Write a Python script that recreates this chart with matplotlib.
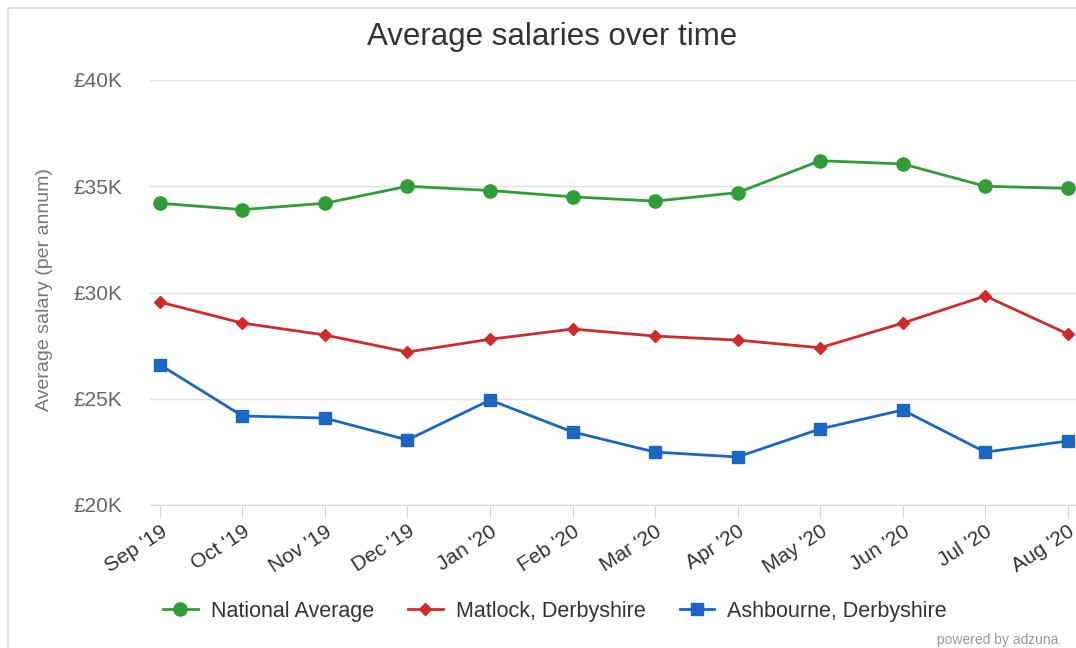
import numpy as np
import matplotlib.pyplot as plt
from matplotlib.patches import Rectangle

plt.rcParams['font.family'] = ['Liberation Sans', 'DejaVu Sans']

# months and salary values (GBP)
months = ["Sep '19", "Oct '19", "Nov '19", "Dec '19", "Jan '20", "Feb '20",
          "Mar '20", "Apr '20", "May '20", "Jun '20", "Jul '20", "Aug '20"]
national = [34200, 33900, 34200, 35000, 34800, 34500, 34300, 34700, 36200, 36050, 35000, 34900]
matlock = [29550, 28560, 28000, 27200, 27800, 28280, 27950, 27760, 27400, 28560, 29840, 28050]
ashbourne = [26600, 24190, 24090, 23060, 24940, 23440, 22490, 22260, 23580, 24470, 22490, 23010]
y_ticks = [20000, 25000, 30000, 35000, 40000]

W, H = 1076, 648
fig = plt.figure(figsize=(W / 100, H / 100), dpi=100)
ax = fig.add_axes([150 / W, 1 - 505 / H, (1076 - 150) / W, (505 - 80) / H])

# chart border
fig.add_artist(Rectangle((8 / W, -0.1), 1.2, 1 - 8 / H + 0.1, transform=fig.transFigure,
                         fill=False, edgecolor='#dddddd', lw=1.2))

x = np.arange(len(months))
green, red, blue = '#2f9e36', '#cf2b2b', '#1a66c2'
ax.plot(x, national, color=green, lw=2, marker='o', ms=9.5, label='National Average', clip_on=False)
ax.plot(x, matlock, color=red, lw=2, marker='D', ms=6.5, label='Matlock, Derbyshire', clip_on=False)
ax.plot(x, ashbourne, color=blue, lw=2, marker='s', ms=9, label='Ashbourne, Derbyshire', clip_on=False)

ax.set_xlim(-0.12, 11.1)
ax.set_ylim(20000, 40000)
ax.set_yticks(y_ticks)
ax.set_yticklabels([f'£{v // 1000}K' for v in y_ticks], color='#666666', fontsize=15)
ax.set_xticks(x)
ax.set_xticklabels(months, rotation=33, ha='right', rotation_mode='anchor', color='#333333', fontsize=15)
ax.tick_params(axis='y', length=0, pad=20)
ax.tick_params(axis='x', length=9, color='#ccd6eb', pad=3)
ax.grid(axis='y', color='#e0e0e0', lw=1)
ax.set_axisbelow(True)
for s in ['top', 'right', 'left']:
    ax.spines[s].set_visible(False)
ax.spines['bottom'].set_color('#ccd6eb')

fig.text(552 / W, 1 - 37 / H, 'Average salaries over time', ha='center', va='center',
         fontsize=22.5, color='#333333')
fig.text(45 / W, 1 - 290 / H, 'Average salary (per annum)', ha='center', va='center',
         rotation=90, fontsize=14, color='#777777')

fig.legend(loc='center', bbox_to_anchor=(555 / W, 1 - 611 / H), ncol=3, frameon=False,
           fontsize=15.5, handlelength=1.6, columnspacing=1.6, handletextpad=0.6,
           labelcolor='#333333')
fig.text(937 / W, 1 - 640 / H, 'powered by adzuna', ha='left', va='center',
         fontsize=10, color='#999999')

fig.savefig('out.png', dpi=100)
